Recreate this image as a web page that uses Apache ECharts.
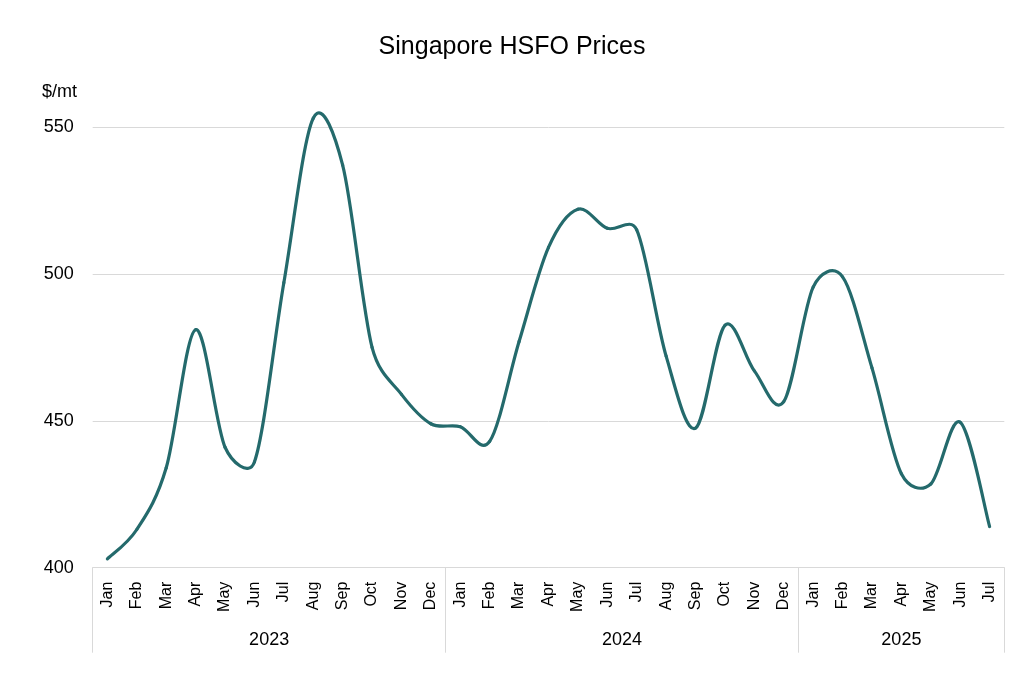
<!DOCTYPE html>
<html>
<head>
<meta charset="utf-8">
<script src="https://cdn.jsdelivr.net/npm/echarts@6/dist/echarts.min.js"></script>
<style>
  html, body { margin: 0; padding: 0; background: #ffffff; }
  #chart { width: 1024px; height: 699px; }
</style>
</head>
<body>
<div id="chart"></div>
<script>
// ---- Data ----
const chartTitle = 'Singapore HSFO Prices';
const unitLabel = '$/mt';
const months = [
  'Jan','Feb','Mar','Apr','May','Jun','Jul','Aug','Sep','Oct','Nov','Dec',
  'Jan','Feb','Mar','Apr','May','Jun','Jul','Aug','Sep','Oct','Nov','Dec',
  'Jan','Feb','Mar','Apr','May','Jun','Jul'
];
const years = ['2023', '2024', '2025'];
const monthsPerYear = [12, 12, 7];
const prices = [
  403, 413, 434, 481, 441, 436, 497, 553, 537, 475, 459, 449,
  448, 443, 477, 509, 522, 515.5, 515, 472, 447.5, 482.5, 467, 456.5,
  495.5, 499, 468, 432, 428.5, 449.5, 414
];
const yTicks = { min: 400, max: 550, step: 50 };

// ---- Derived group boundaries for the year axis ----
const boundaries = [0];
monthsPerYear.forEach(n => boundaries.push(boundaries[boundaries.length - 1] + n));
const mids = years.map((y, i) => (boundaries[i] + boundaries[i + 1]) / 2);
const total = boundaries[boundaries.length - 1];

const FONT = '"Liberation Sans", Arial, sans-serif';
const GRIDC = '#d9d9d9';
const LINEC = '#246a6c';

// Spreadsheet-style smoothed line: one bezier segment per data item,
// positioned through the axes via api.coord. Control arms are 1/6 of the
// neighbour chord, limited to half of the segment length.
function renderSegment(params, api) {
  const i = params.dataIndex;
  const n = prices.length;
  if (i >= n - 1) return null;
  const P = k => {
    const kk = Math.max(0, Math.min(n - 1, k));
    return api.coord([kk, prices[kk]]);
  };
  const dist = (a, b) => Math.hypot(a[0] - b[0], a[1] - b[1]);
  const p0 = P(i - 1), p1 = P(i), p2 = P(i + 1), p3 = P(i + 2);
  const d12 = dist(p1, p2), d02 = dist(p0, p2), d13 = dist(p1, p3);
  const f = (d02 / 6 < d12 / 2) ? 1 / 6 : (d02 > 0 ? d12 / (2 * d02) : 0);
  const g = (d13 / 6 < d12 / 2) ? 1 / 6 : (d13 > 0 ? d12 / (2 * d13) : 0);
  return {
    type: 'bezierCurve',
    shape: {
      x1: p1[0], y1: p1[1],
      x2: p2[0], y2: p2[1],
      cpx1: p1[0] + (p2[0] - p0[0]) * f,
      cpy1: p1[1] + (p2[1] - p0[1]) * f,
      cpx2: p2[0] - (p3[0] - p1[0]) * g,
      cpy2: p2[1] - (p3[1] - p1[1]) * g
    },
    style: { stroke: LINEC, lineWidth: 3.2, fill: null, lineCap: 'round', lineJoin: 'round' }
  };
}

const chart = echarts.init(document.getElementById('chart'), null, { renderer: 'canvas' });
chart.setOption({
  backgroundColor: '#ffffff',
  animation: false,
  title: [
    {
      text: chartTitle,
      left: 'center',
      top: 30,
      textStyle: { fontFamily: FONT, fontSize: 25, fontWeight: 'normal', color: '#000' }
    },
    {
      text: unitLabel,
      left: 37,
      top: 78,
      textStyle: { fontFamily: FONT, fontSize: 18, fontWeight: 'normal', color: '#000' }
    }
  ],
  grid: {
    left: 92.7, right: 19.7, top: 127, bottom: 131.3,
    containLabel: false, outerBoundsMode: 'none'
  },
  xAxis: [
    {
      type: 'category',
      data: months,
      boundaryGap: true,
      position: 'bottom',
      axisLine: { show: true, lineStyle: { color: GRIDC, width: 1 } },
      axisTick: { show: false },
      axisLabel: {
        interval: 0, rotate: 90, margin: 14,
        fontFamily: FONT, fontSize: 16, color: '#000'
      },
      splitLine: { show: false }
    },
    {
      type: 'value',
      min: 0,
      max: total,
      position: 'bottom',
      axisLine: { show: false },
      splitLine: { show: false },
      axisTick: {
        show: true,
        customValues: boundaries,
        length: 85,
        lineStyle: { color: GRIDC, width: 1 }
      },
      axisLabel: {
        customValues: mids,
        margin: 63,
        fontFamily: FONT, fontSize: 18, color: '#000',
        formatter: function (v) {
          for (let i = 0; i < mids.length; i++) {
            if (Math.abs(mids[i] - v) < 1e-6) return years[i];
          }
          return '';
        }
      }
    }
  ],
  yAxis: {
    type: 'value',
    min: yTicks.min,
    max: yTicks.max,
    interval: yTicks.step,
    axisLine: { show: false },
    axisTick: { show: false },
    axisLabel: { margin: 19, fontFamily: FONT, fontSize: 18, color: '#000' },
    splitLine: { show: true, lineStyle: { color: GRIDC, width: 1 } }
  },
  series: [
    {
      type: 'custom',
      coordinateSystem: 'cartesian2d',
      xAxisIndex: 0,
      yAxisIndex: 0,
      data: prices.map((v, i) => [i, v]),
      encode: { x: 0, y: 1 },
      renderItem: renderSegment,
      clip: false,
      z: 5
    }
  ]
});
</script>
</body>
</html>
